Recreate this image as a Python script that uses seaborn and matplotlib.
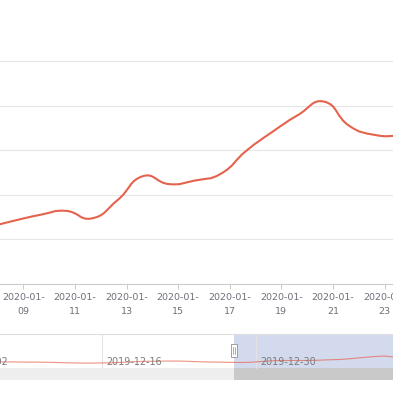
import numpy as np
import pandas as pd
import matplotlib
matplotlib.use("Agg")
import matplotlib.pyplot as plt
import matplotlib.transforms as mtransforms
from matplotlib.path import Path
from matplotlib.patches import PathPatch, Rectangle
import seaborn as sns

# ---------------- data ----------------
dates = pd.date_range("2019-12-05 15:36", "2020-01-23 15:36", freq="D")
values = [84, 82, 83, 81, 80, 79, 76, 71, 68, 67, 68, 70, 76, 84, 90, 92, 94, 95,
          92, 86, 82, 80, 77, 75, 80, 90, 100, 103, 102, 102, 106, 112, 116,
          128, 142, 155, 164, 147, 188, 242, 224, 232, 247, 299, 341, 379, 409,
          354, 334, 332]
tick_dates = pd.date_range("2020-01-09", "2020-01-23", freq="2D")
tick_labels = ["2020-01-\n09", "2020-01-\n11", "2020-01-\n13", "2020-01-\n15",
               "2020-01-\n17", "2020-01-\n19", "2020-01-\n21", "2020-01-\n23"]
y_grid = [0, 100, 200, 300, 400, 500]
slider_dates = pd.to_datetime(["2019-12-02", "2019-12-16", "2019-12-30"])
slider_labels = ["2019-12-02", "2019-12-16", "2019-12-30"]
zoom_start = pd.Timestamp("2019-12-28")

ref = pd.Timestamp("2020-01-09")
day = pd.Timedelta(days=1)
xs = np.asarray((dates - ref) / day, dtype=float)
ys = np.asarray(values, dtype=float)
df = pd.DataFrame({"x": xs, "value": ys})

LINE = "#e5634d"
W = H = 393

sns.set_style("white")
plt.rcParams["font.family"] = ["DejaVu Sans"]

fig = plt.figure(figsize=(W / 100, H / 100), dpi=100)
fig.patch.set_facecolor("white")

# ---------------- main chart ----------------
px_per_day = 25.8
x0_px = 23.3  # pixel of reference tick
ymax = 505
ax_h_px = 223 * ymax / 500
ax = fig.add_axes([0, (H - 284) / H, 1, ax_h_px / H])


def smooth_path(x, y, sx, sy, smooth=0.5):
    P = np.column_stack([x * sx, y * sy])
    n = len(P)
    cin = np.zeros_like(P)
    cout = np.zeros_like(P)
    for i in range(n):
        prev = P[i - 1] if i > 0 else P[i]
        nxt = P[i + 1] if i < n - 1 else P[i]
        v = nxt - prev
        d0 = np.hypot(*(P[i] - prev))
        d1 = np.hypot(*(nxt - P[i]))
        r = d1 / (d0 + d1) if d0 + d1 > 0 else 0.5
        cin[i] = P[i] - v * smooth * (1 - r)
        cout[i] = P[i] + v * smooth * r
    verts = [P[0]]
    codes = [Path.MOVETO]
    for i in range(n - 1):
        verts += [cout[i], cin[i + 1], P[i + 1]]
        codes += [Path.CURVE4] * 3
    verts = np.array(verts) / np.array([sx, sy])
    return Path(verts, codes)


sy = 223 / 500
path = smooth_path(df["x"].to_numpy(), df["value"].to_numpy(), px_per_day, sy)
ax.add_patch(PathPatch(path, facecolor="none", edgecolor=LINE, lw=1.5,
                       capstyle="round", joinstyle="round", zorder=3))

ax.set_yticks(y_grid)
ax.yaxis.grid(True, color="#e6e6e6", lw=0.8)
ax.xaxis.grid(False)
ax.tick_params(axis="y", left=False, labelleft=False)
tick_x = np.asarray((tick_dates - ref) / day, dtype=float)
ax.set_xticks(tick_x)
ax.set_xticklabels(tick_labels, fontsize=6.8, color="#6e7079", linespacing=1.7)
ax.tick_params(axis="x", bottom=True, length=3.6, width=0.75, color="#cccccc",
               pad=2.8)
for s in ["top", "left", "right"]:
    ax.spines[s].set_visible(False)
ax.spines["bottom"].set_color("#cccccc")
ax.spines["bottom"].set_linewidth(0.8)
ax.set_xlabel("")
ax.set_ylabel("")
ax.set_xlim(-x0_px / px_per_day, (W - x0_px) / px_per_day)
ax.set_ylim(0, ymax)

# ---------------- data-zoom slider ----------------
s_top, s_bot = 334, 380
s_h = s_bot - s_top
px_per_day_s = 11.0
ref_px_s = 256  # pixel of 2019-12-30
ref_s = (slider_dates[2] - ref) / day
ax2 = fig.add_axes([0, (H - s_bot) / H, 1, s_h / H])
ax2.set_axis_off()

band = 12 / s_h
sel_px = ref_px_s + ((zoom_start - ref) / day - ref_s) * px_per_day_s
sel = sel_px / W
ta = ax2.transAxes
ax2.add_patch(Rectangle((0, 0), sel, band, transform=ta, fc="#eeeeee", ec="none", zorder=0))
ax2.add_patch(Rectangle((sel, 0), 1 - sel, band, transform=ta, fc="#c9c9c9", ec="none", zorder=0))
ax2.add_patch(Rectangle((sel, band), 1 - sel, 1 - band, transform=ta, fc="#d3daee", ec="none", zorder=0))
ax2.plot([0, 1], [1, 1], transform=ta, color="#dddddd", lw=0.8, clip_on=False, zorder=1)

sd = np.asarray((slider_dates - ref) / day, dtype=float)
for xv in sd:
    ax2.axvline(xv, ymin=band, ymax=1, color="#e2e2e2", lw=0.8, zorder=1)

sns.lineplot(data=df, x="x", y="value", ax=ax2, color=LINE, lw=0.8, alpha=0.7,
             zorder=2, legend=False)

blend = mtransforms.blended_transform_factory(ax2.transData, ax2.transAxes)
for xv, lab in zip(sd, slider_labels):
    ax2.text(xv + 4 / px_per_day_s, 0.40, lab, transform=blend, ha="left",
             va="center", fontsize=6.9, color="#7a7a7a", zorder=3)

# handle
hx0, hx1 = 230.7 / W, 237.3 / W
hy0, hy1 = (s_bot - 357.3) / s_h, (s_bot - 344) / s_h
ax2.add_patch(Rectangle((hx0, hy0), hx1 - hx0, hy1 - hy0, transform=ta,
                        fc="white", ec="#a0a0a0", lw=0.7, zorder=5, clip_on=False))
for hx in (233.3, 235.3):
    ax2.plot([hx / W, hx / W], [(s_bot - 354.3) / s_h, (s_bot - 346.7) / s_h],
             transform=ta, color="#a0a0a0", lw=0.6, zorder=6, clip_on=False)

ax2.set_xlim(ref_s - ref_px_s / px_per_day_s, ref_s + (W - ref_px_s) / px_per_day_s)
ax2.set_ylim(-164, 464)

fig.savefig("out.png", dpi=100, facecolor="white")
